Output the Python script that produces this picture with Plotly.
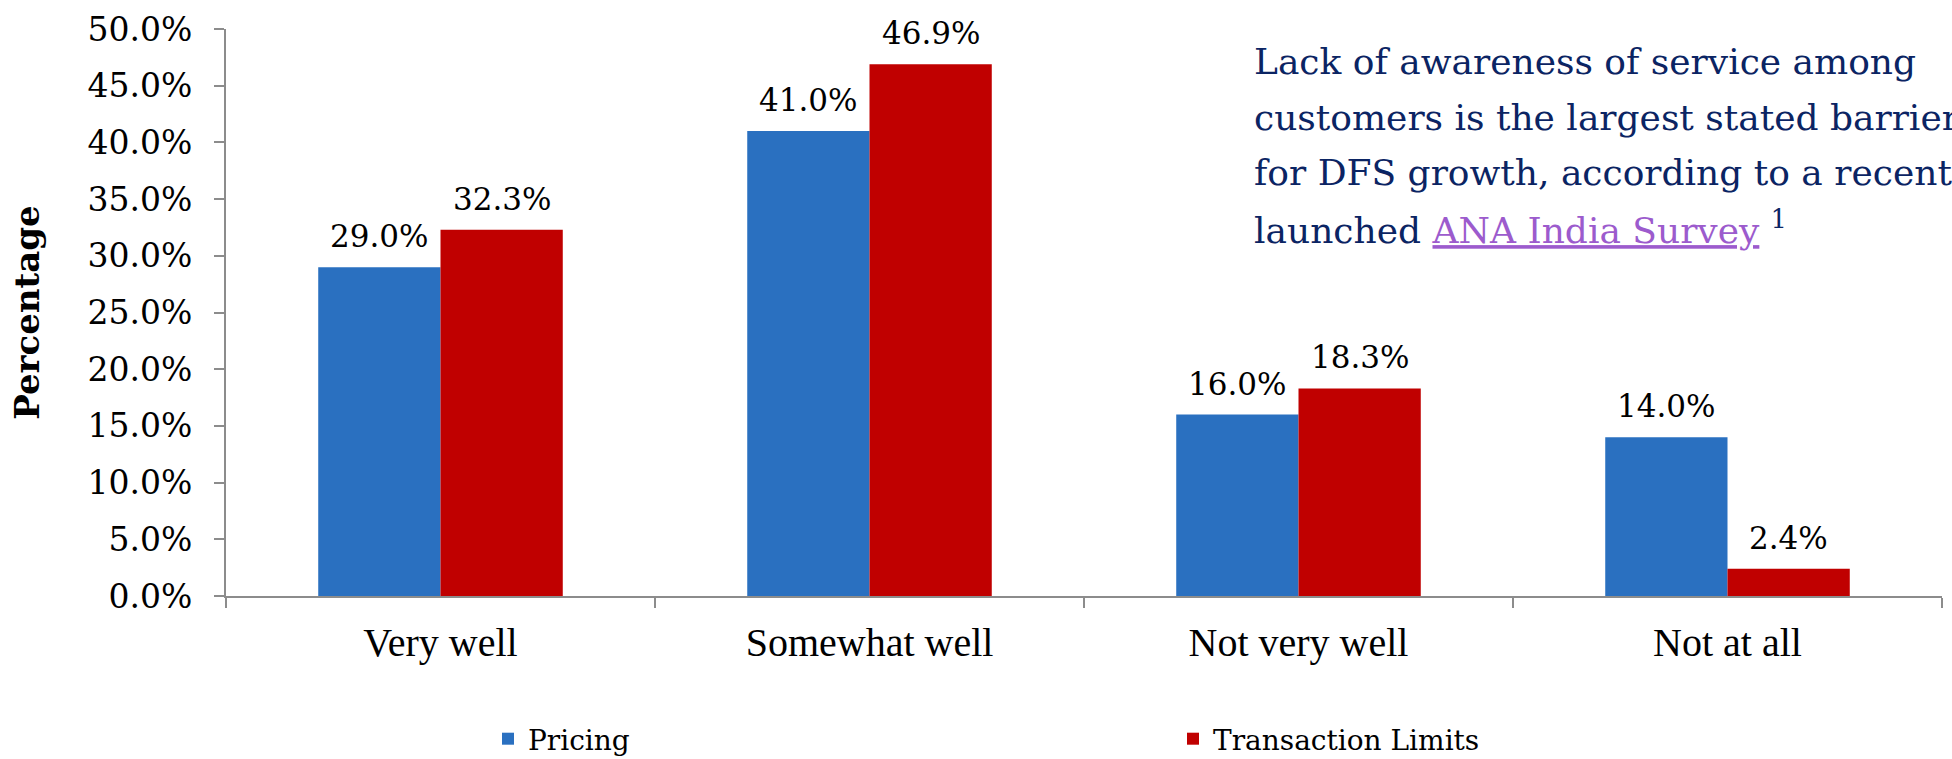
import plotly.graph_objects as go

# Survey responses, share of respondents
categories = ["Very well", "Somewhat well", "Not very well", "Not at all"]
pricing = [29.0, 41.0, 16.0, 14.0]
transaction_limits = [32.3, 46.9, 18.3, 2.4]
series_names = ["Pricing", "Transaction Limits"]
y_ticks = [0, 5, 10, 15, 20, 25, 30, 35, 40, 45, 50]

BLUE = "#2A70C0"
RED = "#C00000"
NAVY = "#0B2463"
LINK = "#9C5BCD"
AXIS_GREY = "#8C8C8C"
SERIF = "DejaVu Serif"
TIMES = "Liberation Serif"

W, H = 1952, 759
M_L, M_R, M_T, M_B = 226, 10, 23, 163
plot_w = W - M_L - M_R
plot_h = H - M_T - M_B
BARGAP = 0.43
# half of one bar's width in pixels (two bars per category)
HALF_BAR = plot_w / len(categories) * (1 - BARGAP) / 4


def paper_y(px):
    """Convert a pixel row (from the top of the page) to paper y."""
    return (H - M_B - px) / plot_h


def paper_x(px):
    return (px - M_L) / plot_w


fig = go.Figure()
series = [(series_names[0], pricing, BLUE, -HALF_BAR),
          (series_names[1], transaction_limits, RED, HALF_BAR)]
for name, vals, color, shift in series:
    fig.add_trace(go.Bar(
        x=categories,
        y=vals,
        name=name,
        marker=dict(color=color, line=dict(width=0)),
    ))
    # value labels sitting above each bar
    for cat, v in zip(categories, vals):
        fig.add_annotation(
            x=cat, y=v, xref="x", yref="y", showarrow=False,
            xanchor="center", yanchor="bottom", xshift=shift, yshift=11,
            text=f"{v:.1f}%",
            font=dict(family=SERIF, size=31, color="#000000"),
        )

# Call-out text on the right
lines = [
    "Lack of awareness of service among",
    "customers is the largest stated barrier",
    "for DFS growth, according to a recently",
    "launched <span style='color:%s;text-decoration:underline'>ANA India Survey</span>"
    " <sup>1</sup>" % LINK,
]
line_centers = [56, 112, 168, 224]
for txt, yc in zip(lines, line_centers):
    fig.add_annotation(
        x=paper_x(1252), y=paper_y(yc), xref="paper", yref="paper",
        xanchor="left", yanchor="middle", showarrow=False, align="left",
        text=txt, font=dict(family=SERIF, size=36, color=NAVY),
    )

fig.update_layout(
    width=W, height=H,
    margin=dict(l=M_L, r=M_R, t=M_T, b=M_B),
    paper_bgcolor="white", plot_bgcolor="white",
    barmode="group", bargap=BARGAP, bargroupgap=0,
    showlegend=True,
    legend=dict(
        orientation="h", xref="container", yref="container",
        x=488 / W, y=1 - 739 / H, xanchor="left", yanchor="middle",
        font=dict(family=SERIF, size=28, color="#000000"),
        entrywidth=640, entrywidthmode="pixels",
        itemclick=False, bgcolor="rgba(0,0,0,0)",
    ),
    xaxis=dict(
        type="category",
        showline=True, linecolor=AXIS_GREY, linewidth=2,
        ticks="outside", tickson="boundaries", ticklen=10,
        tickcolor=AXIS_GREY, tickwidth=2,
        ticklabelstandoff=10,
        tickfont=dict(family=TIMES, size=40, color="#000000"),
        showgrid=False, zeroline=False,
    ),
    yaxis=dict(
        range=[0, 50],
        tickvals=y_ticks,
        ticktext=[f"{v:.1f}%" for v in y_ticks],
        showline=True, linecolor=AXIS_GREY, linewidth=2,
        ticks="outside", ticklen=10, tickcolor=AXIS_GREY, tickwidth=2,
        ticklabelstandoff=15,
        tickfont=dict(family=SERIF, size=33, color="#000000"),
        showgrid=False, zeroline=False,
        title=dict(text="<b>Percentage</b>", standoff=38,
                   font=dict(family=SERIF, size=34, color="#000000")),
    ),
)

fig.write_html("out.html")
